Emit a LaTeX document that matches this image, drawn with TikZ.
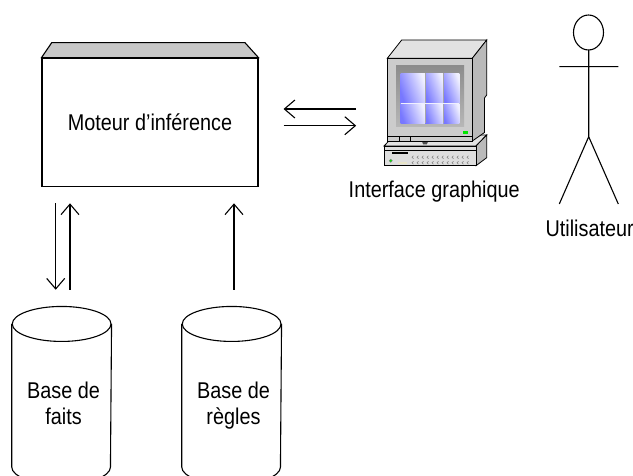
\documentclass[tikz,border=0pt]{standalone}
\usepackage{fontspec}
\setmainfont[FakeStretch=0.87]{Liberation Sans}
\usetikzlibrary{arrows.meta}
\definecolor{lidgray}{RGB}{200,200,200}
\definecolor{monfront}{RGB}{204,204,204}
\definecolor{montop}{RGB}{226,226,226}
\definecolor{monside}{RGB}{186,186,186}
\definecolor{basefront}{RGB}{222,222,222}
\definecolor{tileA}{RGB}{120,120,255}
\definecolor{tileB}{RGB}{240,240,255}
\definecolor{ledgreen}{RGB}{0,230,0}
\definecolor{beige}{RGB}{232,228,200}
\begin{document}
\begin{tikzpicture}[x=1pt,y=-1pt,line width=1.1pt,line join=miter,
  lbl/.style={font=\fontsize{22.8}{25.5}\selectfont,align=center,inner sep=0pt},
  arr/.style={-{Straight Barb[length=10.5pt,width=18pt]}},
  thin line/.style={line width=0.8pt},
  key/.style={line width=0.5pt,draw=gray},
  tile/.style={left color=tileA,right color=tileB,shading angle=110}]
\useasboundingbox (0,0) rectangle (633,476);
\begin{scope}
\clip (0,0) rectangle (633,476);

% inference engine box with its shaded lid
\node[draw,minimum width=216pt,minimum height=128.5pt,inner sep=0pt,lbl]
  (moteur) at (150,122.5) {Moteur d’inférence};
\draw[fill=lidgray] (moteur.north west) -- (51.7,42.7) -- (245,42.7)
  -- (moteur.north east) -- cycle;

% databases (cylinders)
\node[minimum width=98.7pt,minimum height=177pt,inner sep=0pt] (faits) at (61.65,395.5) {};
\node[minimum width=98.7pt,minimum height=177pt,inner sep=0pt] (regles) at (231.65,395.5) {};
\foreach \db in {faits,regles}{
  \draw ([yshift=-17.5pt]\db.north west) -- ([yshift=17.5pt]\db.south west)
    arc[start angle=180,end angle=360,x radius=49.35pt,y radius=17.5pt]
    -- ([yshift=-17.5pt]\db.north east);
  \draw ([yshift=-17.5pt]\db.north) ellipse[x radius=49.35pt,y radius=17.5pt];
}
\node[lbl,anchor=north] (faitstxt) at (63.5,381.8) {Base de\\faits};
\node[lbl,anchor=north] (reglestxt) at (233.5,381.8) {Base de\\règles};

% vertical connectors
\draw[arr,shorten <=16.7pt,shorten >=16pt] (faits.north -| 70,0) -- (moteur.south -| 70,0);
\draw[arr,shorten <=16pt,shorten >=16.7pt] (moteur.south -| 55.7,0) -- (faits.north -| 55.7,0);
\draw[arr,shorten <=16.7pt,shorten >=16pt] (regles.north -| 234,0) -- (moteur.south -| 234,0);

% computer
\node[minimum width=102.7pt,minimum height=126pt,inner sep=0pt] (pc) at (435.35,102.85) {};
\begin{scope}[thin line]
  % base unit
  \draw[fill=montop] (384,146) -- (394.7,135) -- (486.7,135) -- (476,146) -- cycle;
  \draw[fill=monside] (476,146) -- (486.7,135) -- (486.7,157.7) -- (476,165.7) -- cycle;
  \draw[fill=basefront] (384,146) rectangle (476,165.7);
  \draw[line width=0.5pt] (384,150) -- (476,150);
  \fill (391.7,151.7) rectangle (408.3,154.3);
  \fill[beige] (398,161.7) rectangle (406.7,164.3);
  \draw[line width=0.4pt,draw=gray,fill=ledgreen] (390.7,160.7) circle[radius=1.6pt];
  \foreach \r in {157.3,162.7}
    \foreach \k in {0,...,11}
      \draw[key] ({412+5*\k+1.5},\r-1.5) -- ({412+5*\k},\r) -- ({412+5*\k+1.5},\r+1.5);
  % stand
  \fill[black!70] (421.7,141) -- (428.3,141) -- (426.7,144.5) -- (423.3,144.5) -- cycle;
  % monitor casing
  \draw[fill=montop] (387.3,58.3) -- (401.7,40) -- (486.7,40) -- (472.3,58.3) -- cycle;
  \draw[fill=monside] (472.3,58.3) -- (486.7,40) -- (486.7,95) -- (484.5,98)
    -- (484.5,132.5) -- (472.3,141) -- cycle;
  \draw[fill=monfront] (387.3,58.3) rectangle (472.3,141);
  \draw[line width=0.5pt] (387.3,136.7) -- (472.3,136.7)
    (399.3,136.7) -- (399.3,141) (410,136.7) -- (410,141);
\end{scope}
% screen bezel and tiles
\shade[top color=black!45,bottom color=black!28] (396,66) rectangle (464,127);
\foreach \xa/\xb in {400.7/425,425/443.3,443.3/459.3}
  \foreach \ya/\yb in {73.3/103.3,103.3/123.3}
    \shade[tile] (\xa,\ya) rectangle (\xb,\yb);
\draw[line width=0.5pt,draw=black!35] (425,73.3) -- (425,123.3) (443.3,73.3) -- (443.3,123.3);
\draw[line width=0.6pt,draw=tileB] (400.7,103.3) -- (459.3,103.3);
\fill[ledgreen] (463.3,131) rectangle (468.3,134);
\node[lbl,anchor=base] (pctxt) at (434.2,197.5) {Interface graphique};

% horizontal connectors
\draw[arr,shorten <=25pt,shorten >=27.3pt] (moteur.east |- 0,125.7) -- (pc.west |- 0,125.7);
\draw[arr,shorten <=27.3pt,shorten >=25pt] (pc.west |- 0,109) -- (moteur.east |- 0,109);

% user (stick figure)
\draw (588.5,32.5) ellipse[x radius=15pt,y radius=17.5pt];
\draw (588.7,50) -- (588.7,136.7)
      (559.3,66.7) -- (618.3,66.7)
      (559.3,204) -- (588.7,136.7) -- (618.3,204);
\node[lbl,anchor=base west] (user) at (545,236.7) {Utilisateur};
\end{scope}
\end{tikzpicture}
\end{document}
